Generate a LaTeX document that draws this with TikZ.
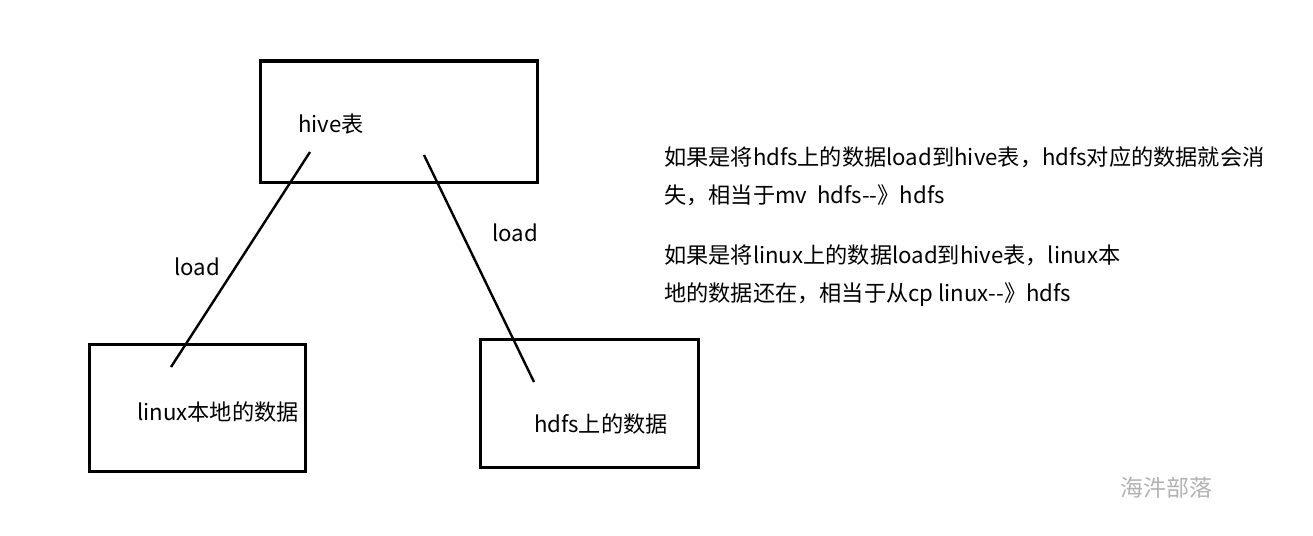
\documentclass[tikz,border=0pt]{standalone}
\usepackage{fontspec}
\setmainfont{Noto Sans CJK SC}
\begin{document}
\begin{tikzpicture}[x=1pt,y=-1pt,
  box/.style={draw,line width=3pt,inner sep=0pt},
  link/.style={line width=2.4pt},
  lbl/.style={inner sep=0pt,anchor=west,font=\fontsize{22.2}{26}\selectfont}]
\useasboundingbox (0,0) rectangle (1313,535);
\node[box,minimum width=277pt,minimum height=121pt] (hive) at (398.5,121.5) {};
\node[box,minimum width=216pt,minimum height=127pt] (linux) at (197,407.5) {};
\node[box,minimum width=218pt,minimum height=128pt] (hdfs) at (589,403) {};
\node[lbl] (thive) at (298,124) {hive表};
\node[lbl] (tlinux) at (137,412) {linux本地的数据};
\node[lbl] (thdfs) at (534,424) {hdfs上的数据};
\node[lbl] (load1) at (174,267) {load};
\node[lbl] (load2) at (492,233) {load};
\coordinate (a1) at (310,152);
\coordinate (a2) at (171,367);
\coordinate (b1) at (424,155);
\coordinate (b2) at (534,382);
\draw[link] (a1) -- (a2);
\draw[link] (b1) -- (b2);
\node[lbl] (n1) at (664,157) {如果是将hdfs上的数据load到hive表，hdfs对应的数据就会消};
\node[lbl] (n2) at (664,195) {失，相当于mv\ \ hdfs-{}-》hdfs};
\node[lbl] (n3) at (664,255) {如果是将linux上的数据load到hive表，linux本};
\node[lbl] (n4) at (664,295) {地的数据还在，相当于从cp linux-{}-》hdfs};
\node[inner sep=0pt,text=black!30,font=\fontsize{23}{27}\selectfont] (wm) at (1166,488) {海汼部落};
\end{tikzpicture}
\end{document}
